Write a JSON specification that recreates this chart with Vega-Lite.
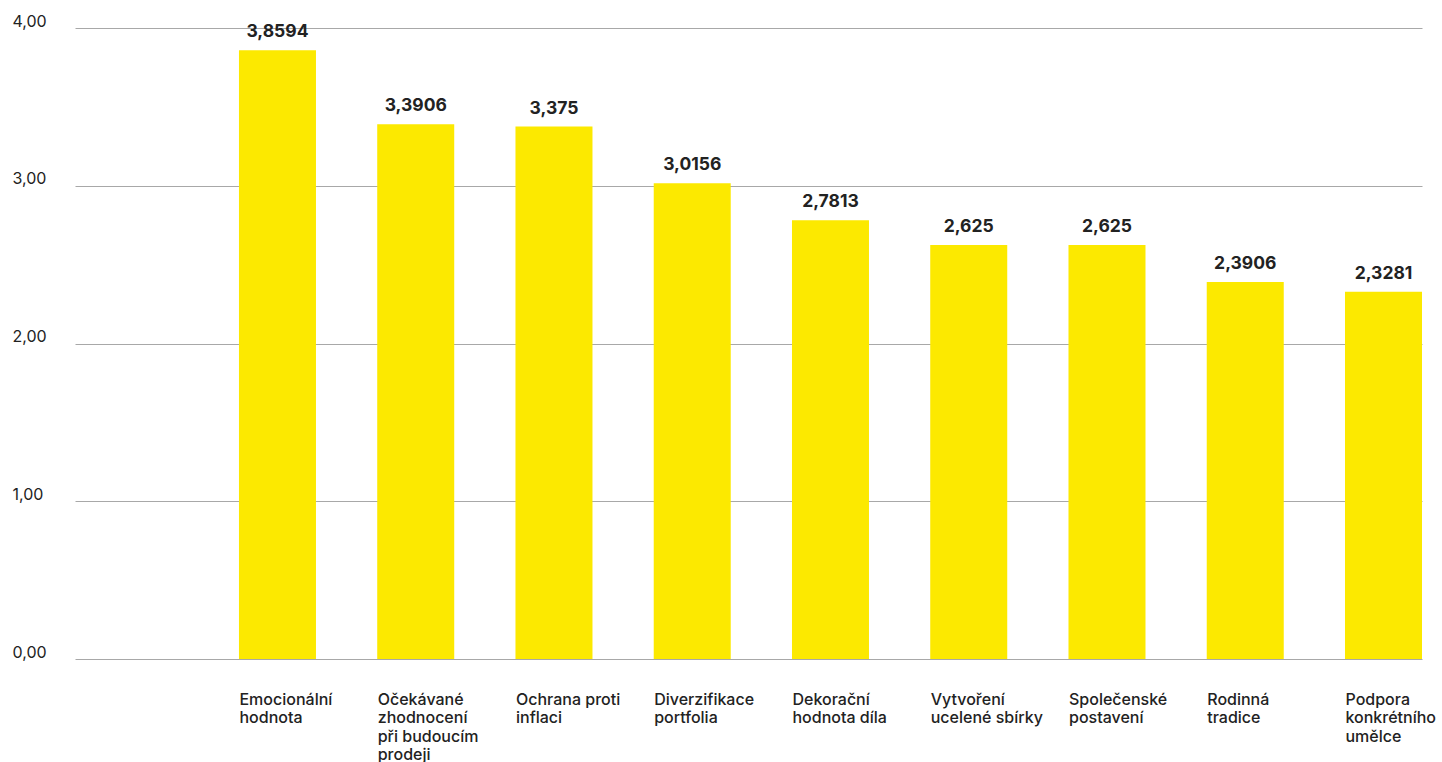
{
  "$schema": "https://vega.github.io/schema/vega-lite/v6.json",
  "width": 1347,
  "height": 631,
  "autosize": {"type": "none"},
  "padding": {"left": 75, "top": 28, "right": 20, "bottom": 103},
  "background": "white",
  "config": {
    "locale": {"number": {"decimal": ",", "thousands": " ", "grouping": [3], "currency": ["", " Kč"]}},
    "view": {"stroke": null},
    "font": "Inter"
  },
  "data": {
    "values": [
      {"kategorie": "Emocionální\nhodnota", "hodnota": 3.8594},
      {"kategorie": "Očekávané\nzhodnocení\npři budoucím\nprodeji", "hodnota": 3.3906},
      {"kategorie": "Ochrana proti\ninflaci", "hodnota": 3.375},
      {"kategorie": "Diverzifikace\nportfolia", "hodnota": 3.0156},
      {"kategorie": "Dekorační\nhodnota díla", "hodnota": 2.7813},
      {"kategorie": "Vytvoření\nucelené sbírky", "hodnota": 2.625},
      {"kategorie": "Společenské\npostavení", "hodnota": 2.625},
      {"kategorie": "Rodinná\ntradice", "hodnota": 2.3906},
      {"kategorie": "Podpora\nkonkrétního\numělce", "hodnota": 2.3281}
    ]
  },
  "encoding": {
    "x": {
      "field": "kategorie",
      "type": "nominal",
      "sort": null,
      "scale": {"paddingInner": 0.443, "paddingOuter": 0.593, "align": 1},
      "axis": {
        "title": null,
        "domain": false,
        "ticks": false,
        "labelAngle": 0,
        "labelAlign": "left",
        "labelBaseline": "top",
        "labelOffset": -38,
        "labelPadding": 32,
        "labelFontSize": 16,
        "labelFontWeight": 500,
        "labelColor": "#222222",
        "labelLineHeight": 18.5,
        "labelLimit": 200,
        "labelExpr": "split(datum.value, '\\n')"
      }
    },
    "y": {
      "field": "hodnota",
      "type": "quantitative",
      "scale": {"domain": [0, 4], "nice": false},
      "axis": {
        "title": null,
        "domain": false,
        "ticks": false,
        "values": [0, 1, 2, 3, 4],
        "format": ".2f",
        "labelAlign": "left",
        "labelBaseline": "alphabetic",
        "labelPadding": 63,
        "labelOffset": -2,
        "labelFontSize": 16,
        "labelColor": "#222222",
        "gridColor": "#a8a8a8",
        "gridWidth": 1
      }
    }
  },
  "layer": [
    {"mark": {"type": "bar", "color": "#FCE900"}},
    {
      "mark": {"type": "text", "baseline": "bottom", "dy": -9, "fontSize": 17.5, "fontWeight": "bold", "color": "#222222"},
      "encoding": {"text": {"field": "hodnota", "type": "quantitative", "format": ".4~f"}}
    }
  ]
}
